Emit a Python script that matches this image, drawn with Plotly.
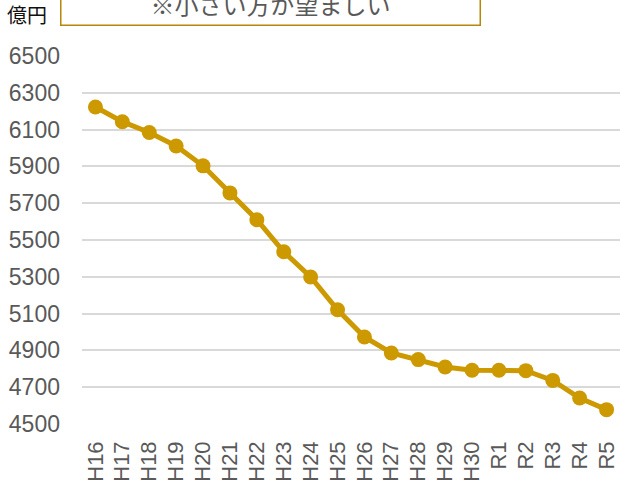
import plotly.graph_objects as go

categories = ["H16", "H17", "H18", "H19", "H20", "H21", "H22", "H23", "H24", "H25",
              "H26", "H27", "H28", "H29", "H30", "R1", "R2", "R3", "R4", "R5"]
values = [6223, 6143, 6084, 6011, 5903, 5756, 5610, 5436, 5299, 5121,
          4973, 4886, 4850, 4810, 4792, 4792, 4790, 4737, 4641, 4578]
y_ticks = [4500, 4700, 4900, 5100, 5300, 5500, 5700, 5900, 6100, 6300, 6500]
unit_label = "億円"
note_text = "※小さい方が望ましい"

GOLD = "#CC9900"
GRAY = "#595959"

fig = go.Figure()
fig.add_trace(go.Scatter(
    x=categories, y=values, mode="lines+markers",
    line=dict(color=GOLD, width=5),
    marker=dict(color=GOLD, size=15),
    hoverinfo="skip", cliponaxis=False,
))

fig.update_layout(
    width=620, height=485,
    margin=dict(l=82, r=0, t=56, b=61, autoexpand=False),
    paper_bgcolor="white", plot_bgcolor="white",
    showlegend=False,
    font=dict(family="Liberation Sans, Arial, sans-serif", color=GRAY),
    xaxis=dict(
        type="category", range=[-0.5, len(categories) - 0.5],
        showgrid=False, zeroline=False, showline=False, automargin=False,
        tickangle=-90, tickfont=dict(size=22, color=GRAY),
        ticks="", ticklabelstandoff=12,
    ),
    yaxis=dict(
        range=[4500, 6500], tickvals=y_ticks,
        showgrid=True, gridcolor="#D9D9D9", gridwidth=1.5,
        zeroline=False, showline=False, automargin=False,
        tickfont=dict(size=23, color=GRAY),
        ticks="", ticklabelstandoff=21,
    ),
    annotations=[
        dict(text=unit_label, xref="paper", yref="paper",
             x=(27 - 82) / 538, y=1 + (56 - 14) / 368,
             xanchor="center", yanchor="middle", showarrow=False,
             font=dict(family="Noto Sans CJK JP", size=20, color="#111111")),
        dict(text=note_text, xref="paper", yref="paper",
             x=(270 - 82) / 538, y=1 + (56 - 26) / 368,
             xanchor="center", yanchor="bottom", showarrow=False,
             width=416, height=40, bordercolor="#B8860B", borderwidth=1.5,
             bgcolor="white",
             font=dict(family="Noto Sans CJK JP", size=24, color=GRAY)),
    ],
)

fig.write_html("out.html", config={"displayModeBar": False},
               post_script="document.body.style.margin='0';")
